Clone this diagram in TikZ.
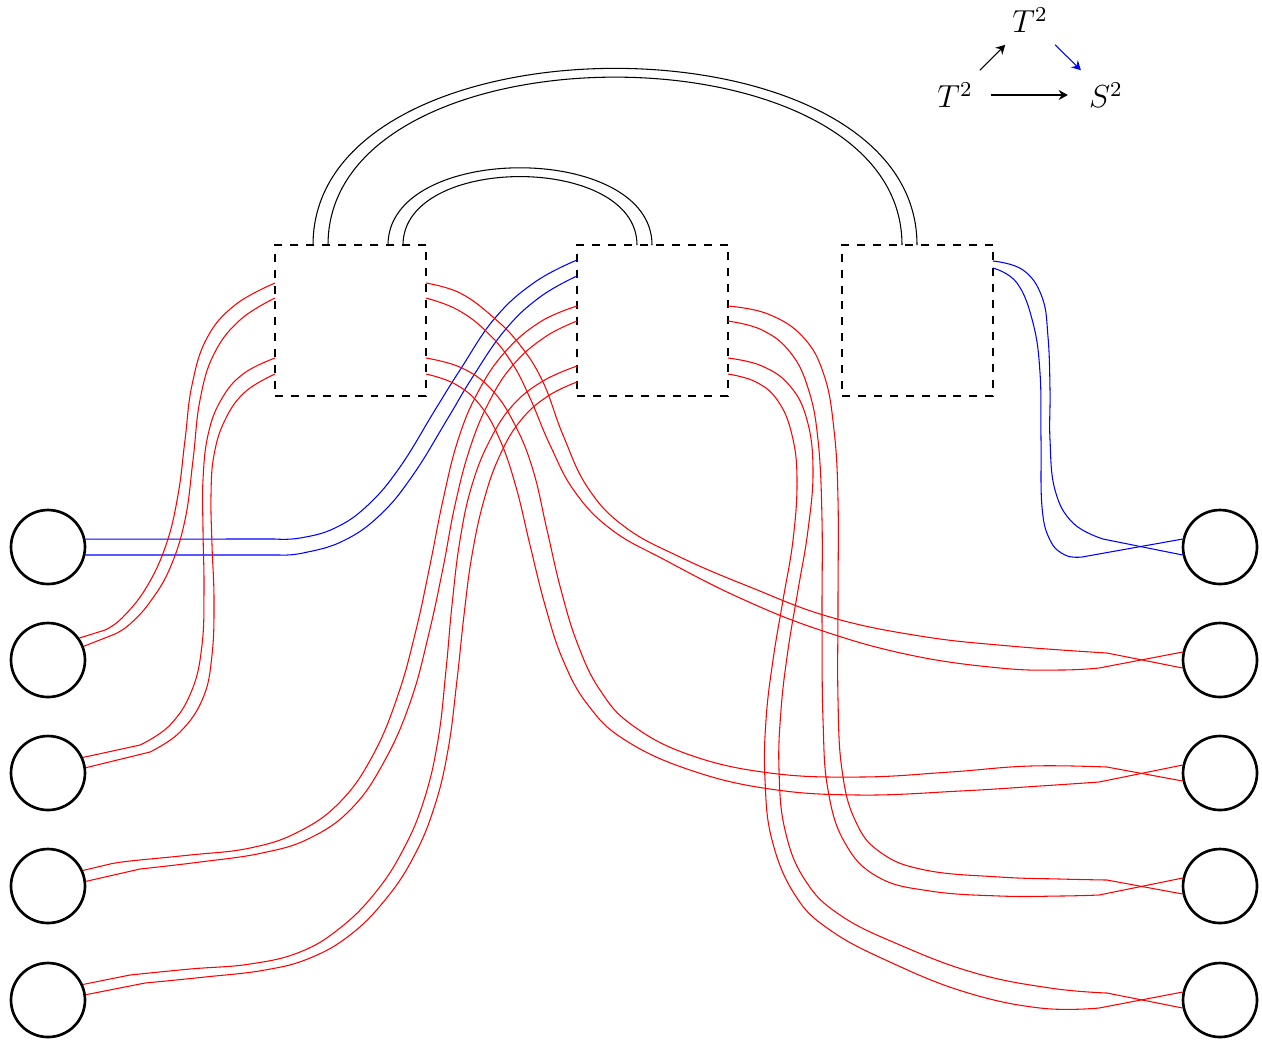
\documentclass[tikz,border=0pt]{standalone}
\usetikzlibrary{arrows.meta}
\begin{document}
\begin{tikzpicture}[x=0.01325cm, y=-0.01325cm,
  ring/.style={circle, draw, line width=1pt, minimum size=0.98cm, inner sep=0pt},
  dbox/.style={rectangle, draw, dashed, minimum width=2cm, minimum height=2cm, inner sep=0pt},
  rs/.style={red},
  bs/.style={blue},
  sm/.style={smooth, tension=0.7},
  lab/.style={font=\large},
  cd/.style={-{Stealth[length=3.5pt,width=3.8pt,inset=1.2pt]}}]
\useasboundingbox (0,0) rectangle (1262,1043);
% circles
\foreach \i/\y in {1/547,2/660,3/773,4/886,5/1000}{
  \node[ring] (L\i) at (48,\y) {};
  \node[ring] (R\i) at (1220,\y) {};
}
% boxes
\node[dbox] (A) at (350.5,320.5) {};
\node[dbox] (B) at (652.5,320.5) {};
\node[dbox] (C) at (917.5,320.5) {};
% attachment points
\coordinate (Al1) at (275,283); \coordinate (Al2) at (275,298);
\coordinate (Al3) at (275,358); \coordinate (Al4) at (275,374);
\coordinate (Ar1) at (426,283); \coordinate (Ar2) at (426,298);
\coordinate (Ar3) at (426,358); \coordinate (Ar4) at (426,374);
\coordinate (Bl1) at (577,260); \coordinate (Bl2) at (577,276);
\coordinate (Bl3) at (577,306); \coordinate (Bl4) at (577,321);
\coordinate (Bl5) at (577,366); \coordinate (Bl6) at (577,382);
\coordinate (Br1) at (728,306); \coordinate (Br2) at (728,321);
\coordinate (Br3) at (728,358); \coordinate (Br4) at (728,374);
\coordinate (Cr1) at (993,261); \coordinate (Cr2) at (993,268);
\coordinate (At1) at (313,245); \coordinate (At2) at (328,245);
\coordinate (At3) at (388,245); \coordinate (At4) at (403,245);
\coordinate (Bt1) at (637,245); \coordinate (Bt2) at (652,245);
\coordinate (Ct1) at (902,245); \coordinate (Ct2) at (917,245);
% black arcs
\draw (At1) to[out=90,in=90] (Ct2);
\draw (At2) to[out=90,in=90] (Ct1);
\draw (At3) to[out=90,in=90] (Bt2);
\draw (At4) to[out=90,in=90] (Bt1);
% blue to L1
\draw[bs] plot[sm] coordinates {(Bl1) (535,282) (495,318) (460,370) (435,410) (400,467) (368,505) (335,528) (300,538) (275,539)} -- (L1.12.5);
\draw[bs] plot[sm] coordinates {(Bl2) (540,297) (505,330) (472,378) (448,418) (413,475) (380,515) (343,541) (303,553) (280,555)} -- (L1.-12.5);
% L2
\draw[rs] plot[sm] coordinates {(Al1) (235,305) (207,338) (192,385) (185,440) (178,495) (166,545) (146,588) (122,618) (105,630)} -- (L2.35);
\draw[rs] plot[sm] coordinates {(Al2) (240,320) (214,354) (200,400) (193,460) (185,520) (170,568) (150,602) (130,624) (115,634)} -- (L2.21);
% L3
\draw[rs] plot[sm] coordinates {(Al3) (243,374) (221,400) (208,435) (203,480) (203,530) (204,590) (202,645) (192,690) (170,725) (140,745)} -- (L3.24);
\draw[rs] plot[sm] coordinates {(Al4) (245,392) (225,420) (214,455) (211,495) (212,545) (214,600) (212,655) (203,698) (180,732) (150,752)} -- (L3.8);
% L4
\draw[rs] plot[sm] coordinates {(Bl3) (540,322) (505,352) (478,392) (458,440) (443,500) (430,565) (416,630) (398,695) (373,755) (340,802) (298,832) (250,848) (190,855) (130,861) (110,864)} -- (L4.24);
\draw[rs] plot[sm] coordinates {(Bl4) (545,337) (513,365) (489,402) (470,448) (455,505) (443,568) (429,633) (411,700) (385,760) (352,808) (310,838) (262,853) (200,862) (140,869)} -- (L4.7);
% L5
\draw[rs] plot[sm] coordinates {(Bl5) (543,381) (513,405) (490,440) (472,485) (460,540) (452,605) (446,670) (438,740) (424,800) (403,850) (375,893) (340,928) (300,952) (250,964) (190,969) (130,975)} -- (L5.24);
\draw[rs] plot[sm] coordinates {(Bl6) (548,396) (521,420) (500,455) (484,500) (472,555) (464,615) (457,680) (448,750) (434,808) (413,858) (385,900) (350,935) (310,958) (265,970) (205,977) (145,983)} -- (L5.8);
% R2
\draw[rs] plot[sm] coordinates {(Ar1) (460,293) (493,317) (520,345) (543,382) (563,435) (588,488) (625,527) (680,557) (750,587) (830,617) (920,636) (1010,646) (1107,653)} -- (R2.192);
\draw[rs] plot[sm] coordinates {(Ar2) (458,310) (488,333) (512,363) (530,398) (550,445) (575,492) (612,530) (665,560) (740,598) (820,630) (910,655) (1000,668) (1060,670) (1099,668)} -- (R2.168);
% R3
\draw[rs] plot[sm] coordinates {(Ar3) (462,368) (492,390) (515,425) (533,470) (547,530) (561,590) (578,645) (600,690) (632,725) (690,755) (770,773) (860,777) (950,772) (1030,766) (1107,767)} -- (R3.192);
\draw[rs] plot[sm] coordinates {(Ar4) (455,384) (480,405) (500,440) (516,487) (530,545) (545,605) (563,660) (588,705) (625,740) (690,770) (770,789) (860,795) (960,791) (1040,786) (1099,782)} -- (R3.168);
% R4
\draw[rs] plot[sm] coordinates {(Br1) (768,314) (803,337) (824,375) (834,430) (838,500) (838,600) (838,700) (842,770) (855,820) (880,852) (925,870) (1000,877) (1060,879) (1107,880)} -- (R4.192);
\draw[rs] plot[sm] coordinates {(Br2) (762,330) (790,352) (808,388) (818,440) (822,520) (822,620) (823,720) (828,790) (845,843) (878,877) (930,891) (1000,896) (1060,896) (1099,895)} -- (R4.168);
% R5
\draw[rs] plot[sm] coordinates {(Br3) (762,366) (790,386) (807,420) (813,470) (808,530) (798,590) (788,650) (781,710) (779,770) (785,830) (805,880) (840,915) (900,945) (975,973) (1050,988) (1107,993)} -- (R5.192);
\draw[rs] plot[sm] coordinates {(Br4) (756,382) (778,401) (792,435) (797,480) (793,540) (783,600) (773,660) (766,720) (765,780) (772,840) (795,895) (830,930) (890,962) (965,992) (1040,1008) (1099,1008)} -- (R5.168);
% R1 blue
\draw[bs] plot[sm] coordinates {(Cr1) (1023,270) (1042,297) (1048,337) (1050,390) (1050,440) (1055,490) (1073,523) (1103,539)} -- (R1.192);
\draw[bs] plot[sm] coordinates {(Cr2) (1017,283) (1033,323) (1040,373) (1041,440) (1042,507) (1050,540) (1065,555) (1082,557)} -- (R1.168);
% commutative triangle
\node[lab] (T1) at (955,95) {$T^2$};
\node[lab] (T2) at (1030,20) {$T^2$};
\node[lab] (S) at (1106,95) {$S^2$};
\draw[cd, shorten <=1.5pt, shorten >=1.5pt] (T1) -- (T2);
\draw[cd, blue, shorten <=1.5pt, shorten >=1.5pt] (T2) -- (S);
\draw[cd, shorten <=3.5pt, shorten >=4.5pt] (T1) -- (S);
\end{tikzpicture}
\end{document}
